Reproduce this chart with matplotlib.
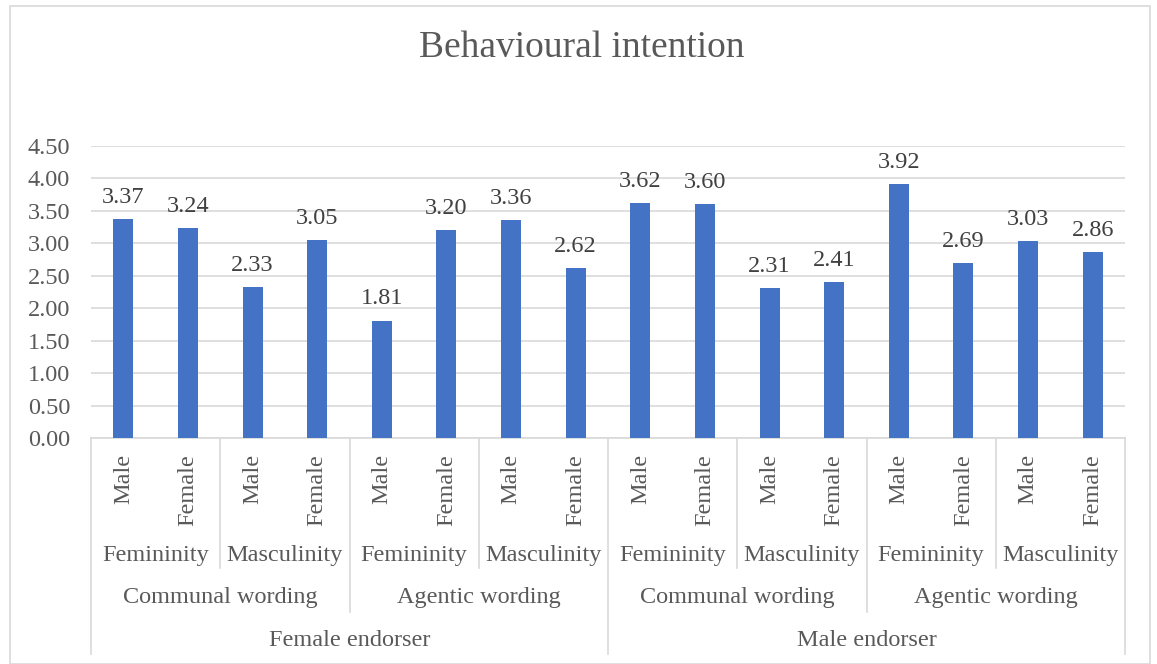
import matplotlib
matplotlib.use('Agg')
from matplotlib import pyplot as plt
from matplotlib.patches import Rectangle
import numpy as np

plt.rcParams['font.family'] = ['Liberation Serif', 'DejaVu Serif']

gender = ['Male', 'Female'] * 8
trait = ['Femininity', 'Masculinity'] * 4
wording = ['Communal wording', 'Agentic wording'] * 2
endorser = ['Female endorser', 'Male endorser']
values = [3.37, 3.24, 2.33, 3.05, 1.81, 3.20, 3.36, 2.62,
          3.62, 3.60, 2.31, 2.41, 3.92, 2.69, 3.03, 2.86]

W, H = 1157, 664
fig = plt.figure(figsize=(W / 100, H / 100), dpi=100)
ax = fig.add_axes([91 / W, 1 - 438 / H, (1125 - 91) / W, (438 - 146) / H])

txt = '#595959'
grid = '#D9D9D9'
fs = 17.5
x = np.arange(len(values))
bars = ax.bar(x, values, width=0.31, color='#4472C4', zorder=3)
for b, v in zip(bars, values):
    ax.annotate('%.2f' % v, (b.get_x() + b.get_width() / 2, v), xytext=(0, 8),
                textcoords='offset points', ha='center', va='bottom',
                fontsize=fs, color='#404040')

ax.set_xlim(-0.5, len(values) - 0.5)
ax.set_ylim(0, 4.5)
ax.set_yticks(np.arange(0, 4.51, 0.5))
ax.set_yticklabels(['%.2f' % t for t in np.arange(0, 4.51, 0.5)], fontsize=fs, color=txt)
ax.tick_params(axis='y', length=0, pad=15)
ax.tick_params(axis='x', length=0, labelbottom=False)
ax.yaxis.grid(True, color=grid, linewidth=1.2, zorder=0)
for s in ['top', 'right', 'left']:
    ax.spines[s].set_visible(False)
ax.spines['bottom'].set_color(grid)
ax.spines['bottom'].set_linewidth(1.2)

fig.text(582 / W, 1 - 48 / H, 'Behavioural intention', fontsize=27, color=txt,
         ha='center', va='center')

tr = ax.get_xaxis_transform()


def yf(p):
    # pixel row -> axes fraction
    return (438 - p) / 292


def vline(xd, p_end):
    ax.plot([xd, xd], [0, yf(p_end)], transform=tr, color=grid, lw=1.2, clip_on=False)


# level 1: gender
for i, g in enumerate(gender):
    ax.text(i, yf(454), g, transform=tr, rotation=90, ha='center', va='top',
            fontsize=fs, color=txt)
# level 2: trait
for j, t in enumerate(trait):
    ax.text(2 * j + 0.5, yf(555), t, transform=tr, ha='center', va='center',
            fontsize=fs, color=txt)
# level 3: wording
for j, w in enumerate(wording):
    ax.text(4 * j + 1.5, yf(598), w, transform=tr, ha='center', va='center',
            fontsize=fs, color=txt)
# level 4: endorser
for j, e in enumerate(endorser):
    ax.text(8 * j + 3.5, yf(640), e, transform=tr, ha='center', va='center',
            fontsize=fs, color=txt)

for k in range(0, len(values) + 1, 2):
    xd = k - 0.5
    if k % 8 == 0:
        vline(xd, 654)
    elif k % 4 == 0:
        vline(xd, 612)
    else:
        vline(xd, 568)

fig.patches.append(Rectangle((10 / W, 0), (1150 - 10) / W, 1 - 6 / H, transform=fig.transFigure,
                             fill=False, edgecolor='#D9D9D9', lw=1.2))

fig.savefig('out.png', dpi=100, facecolor='white')
